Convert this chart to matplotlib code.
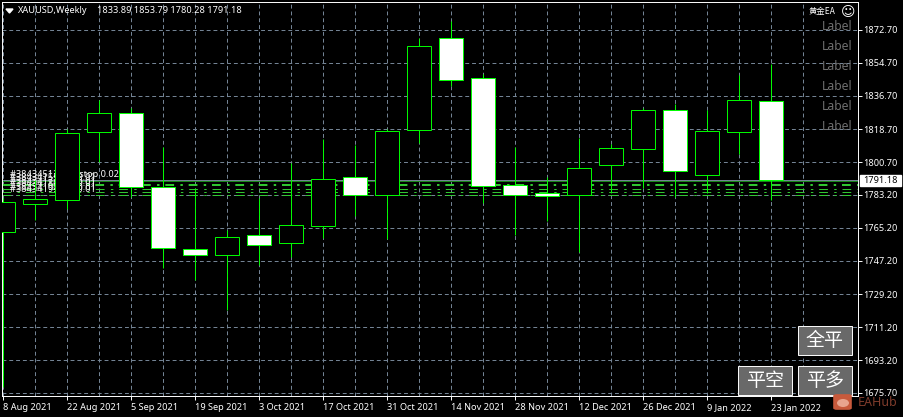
import matplotlib
matplotlib.use('Agg')
import matplotlib.pyplot as plt
from matplotlib.patches import FancyBboxPatch, Rectangle, Ellipse

# weekly candles
opens  = [1763.07, 1778.27, 1780.44, 1817.34, 1827.66, 1787.49, 1753.85, 1750.59, 1761.44, 1757.10,
          1766.33, 1792.92, 1783.15, 1818.43, 1868.36, 1846.65, 1788.58, 1784.24, 1783.15, 1799.43,
          1808.12, 1829.28, 1794.01, 1817.34, 1833.89]
highs  = [1781.52, 1791.29, 1818.97, 1834.71, 1830.37, 1809.20, 1786.95, 1764.16, 1781.52, 1800.52,
          1813.54, 1810.29, 1818.97, 1868.36, 1877.58, 1848.82, 1809.20, 1792.92, 1814.09, 1810.83,
          1830.37, 1832.54, 1829.28, 1848.28, 1853.79]
lows   = [1678.95, 1769.59, 1775.55, 1801.06, 1782.07, 1743.54, 1737.02, 1720.74, 1745.16, 1749.50,
          1759.82, 1771.76, 1759.27, 1811.37, 1842.31, 1778.81, 1761.44, 1769.04, 1752.22, 1784.24,
          1786.95, 1782.07, 1784.24, 1805.40, 1780.28]
closes = [1779.35, 1780.98, 1816.80, 1827.66, 1787.49, 1754.39, 1750.59, 1760.36, 1756.02, 1766.87,
          1791.84, 1783.15, 1817.89, 1864.02, 1845.56, 1788.04, 1783.15, 1782.61, 1797.81, 1808.66,
          1829.28, 1796.18, 1817.89, 1834.71, 1791.18]

date_labels = ['8 Aug 2021', '22 Aug 2021', '5 Sep 2021', '19 Sep 2021', '3 Oct 2021', '17 Oct 2021',
               '31 Oct 2021', '14 Nov 2021', '28 Nov 2021', '12 Dec 2021', '26 Dec 2021', '9 Jan 2022',
               '23 Jan 2022']
price_ticks = [1872.70, 1854.70, 1836.70, 1818.70, 1800.70, 1783.20, 1765.20, 1747.20, 1729.20,
               1711.20, 1693.20, 1675.70]
order_levels = [1786.41, 1784.78, 1783.15]
top_order_level = 1788.31
last_price = 1791.18

W, H = 904, 417
LIME = '#00ff00'
ORDER_GREEN = '#32cd32'
GRID = '#778899'
PX = 0.7  # just under one pixel in points at dpi 100, so lines snap to a single pixel
FONT = 'Noto Sans'
CJK = ['Noto Sans CJK SC', 'DejaVu Sans']
SMALL = 6.6


def fx(x):
    return x / W


def fy(y):
    return 1 - y / H


fig = plt.figure(figsize=(W / 100, H / 100), dpi=100, facecolor='black')
ax = fig.add_axes([fx(2.2), fy(396.2), fx(858.2 - 2.2), (396.2 - 2.2) / H], facecolor='black')

ax.set_xlim((2.2 - 3.2) / 32, (858.2 - 3.2) / 32)
ax.set_ylim(1872.70 - (396.2 - 29.6) / 1.8426, 1872.70 + (29.6 - 2.2) / 1.8426)

# grid on every week, labels on every second one
days = list(range(len(opens)))
ax.set_xticks(range(0, 2 * len(date_labels), 2))
ax.set_xticklabels(date_labels, ha='left', fontname=FONT, fontsize=SMALL, color='white')
ax.set_xticks(range(1, 27, 2), minor=True)
ax.set_yticks(price_ticks)
ax.set_yticklabels(['%.2f' % p for p in price_ticks], fontname=FONT, fontsize=SMALL, color='white')
ax.yaxis.tick_right()
ax.tick_params(axis='x', which='major', colors='white', length=3, width=PX, pad=2)
ax.tick_params(axis='x', which='minor', length=0)
ax.tick_params(axis='y', colors='white', length=3, width=PX, pad=0.8)
ax.grid(True, which='both', color=GRID, lw=PX, linestyle=(0, (4, 3)), zorder=0)
ax.set_axisbelow(True)
for spine in ax.spines.values():
    spine.set_color('white')
    spine.set_linewidth(PX)

# open order lines and their overlapping labels
ax.axhline(last_price - 0.5, color='#1a8a1a', lw=PX, zorder=1)
ax.axhline(last_price, color=GRID, lw=PX, zorder=1.1)
ax.axhline(top_order_level, color=ORDER_GREEN, lw=PX * 2, linestyle=(0, (4.5, 3.25, 1.25, 3)), zorder=1)
for level in order_levels:
    ax.axhline(level, color=ORDER_GREEN, lw=PX, linestyle=(0, (9, 6.5, 2.5, 6)), zorder=1)

ax.text(fx(10), fy(174.5), '#38434512 buy stop 0.02', color='white', fontname=FONT, fontsize=SMALL, va='center',
        transform=fig.transFigure, zorder=2, clip_on=False)
for row, order in zip([178, 181, 184, 187, 189], ['#38434155', '#38434173', '#38434186', '#38434192', '#38434199']):
    ax.text(fx(10), fy(row), order + ' sell 0.01', color='#f4f4f4', fontname=FONT, fontsize=SMALL, va='center',
            transform=fig.transFigure, zorder=2, clip_on=False)

# candles: black body when price rose, white when it fell
ax.vlines(days, lows, highs, color=LIME, lw=PX, zorder=3)
bottoms = [min(o, c) for o, c in zip(opens, closes)]
heights = [abs(o - c) for o, c in zip(opens, closes)]
fills = ['black' if c > o else 'white' for o, c in zip(opens, closes)]
ax.bar(days, heights, width=24 / 32, bottom=bottoms, color=fills, edgecolor=LIME, linewidth=PX, zorder=4)

# title
fig.text(fx(18), fy(10.5), 'XAUUSD,Weekly', color='white', fontname=FONT, fontsize=SMALL, va='center')
fig.text(fx(97), fy(10.5), '1833.89 1853.79 1780.28 1791.18', color='white', fontname=FONT, fontsize=SMALL, va='center')
fig.patches.append(plt.Polygon([[fx(6), fy(9)], [fx(13), fy(9)], [fx(9.5), fy(13)]], closed=True, color='white',
                               transform=fig.transFigure))

# chart objects at the top right
fig.text(fx(809), fy(11.5), '黄金EA', color='white', family=CJK, fontsize=6, va='center')
fig.text(fx(848), fy(12), '☺', color='white', family='DejaVu Sans', fontsize=10, va='center', ha='center')
for y in [26.5, 46.5, 66.5, 86.5, 106.5, 126.5]:
    fig.text(fx(853), fy(y), 'Label', color='#6e6e6e', fontname=FONT, fontsize=8.8, va='center', ha='right', zorder=5)

# price tag of the last price
fig.patches.append(Rectangle((fx(860), fy(186)), 41 / W, 11 / H, color='white', transform=fig.transFigure))
fig.text(fx(880.5), fy(180.5), '%.2f' % last_price, color='black', fontname=FONT, fontsize=SMALL,
         va='center', ha='center', zorder=6)

# buttons
for x0, y0, w, h, caption in [(798, 326, 54, 29, '全平'), (738, 366, 54, 29, '平空'), (798, 366, 54, 29, '平多')]:
    fig.patches.append(Rectangle((fx(x0), fy(y0 + h)), w / W, h / H, facecolor='#696969', edgecolor='white',
                                 linewidth=PX, transform=fig.transFigure, zorder=7))
    fig.text(fx(x0 + w / 2), fy(y0 + h / 2), caption, color='white', family=CJK, fontsize=13.7,
             va='center', ha='center', zorder=8)

# watermark
fig.patches.append(FancyBboxPatch((fx(835), fy(409)), 15 / W, 14 / H, boxstyle='round,pad=0.002,rounding_size=0.004',
                                  facecolor='#c85a3c', edgecolor='none', transform=fig.transFigure, zorder=9))
fig.patches.append(Ellipse((fx(843), fy(403)), 12 / W, 8 / H, facecolor='#e8a58f', edgecolor='none',
                           transform=fig.transFigure, zorder=10))
fig.text(fx(858), fy(403), 'EAHub', color='#7d3b2b', fontname=FONT, fontsize=9, fontweight='bold',
         va='center', zorder=10)

plt.savefig('out.png', dpi=100, facecolor='black')
